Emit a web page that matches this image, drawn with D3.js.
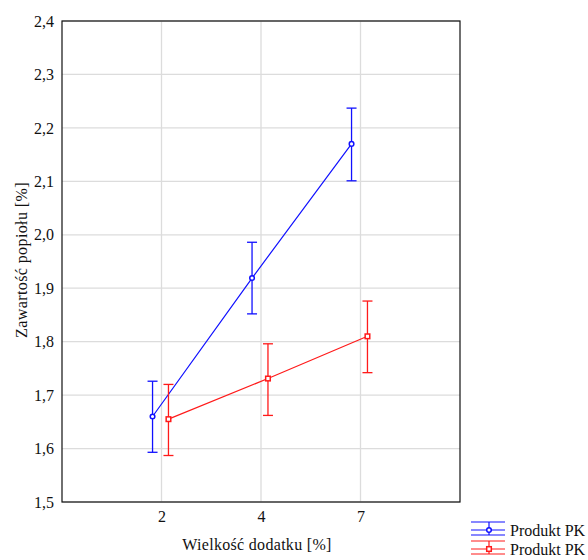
<!DOCTYPE html>
<html>
<head>
<meta charset="utf-8">
<script src="https://cdn.jsdelivr.net/npm/d3@7"></script>
<style>
  body { margin: 0; background: #fff; }
</style>
</head>
<body>
<div id="chart"></div>
<script>
// categorie e valori
const categories = ['2', '4', '7'];
const yTicks = [1.5, 1.6, 1.7, 1.8, 1.9, 2.0, 2.1, 2.2, 2.3, 2.4];

const seriesNames = ['Produkt PK', 'Produkt PK'];
const blueMean = [1.660, 1.919, 2.170];
const blueLow = [1.593, 1.852, 2.101];
const blueHigh = [1.726, 1.986, 2.237];
const redMean = [1.655, 1.731, 1.810];
const redLow = [1.587, 1.662, 1.742];
const redHigh = [1.720, 1.796, 1.876];

const FONT = 'Liberation Serif, Tinos, Times New Roman, Times, serif';
const width = 588, height = 560;
const margin = { top: 21, right: 128, bottom: 58, left: 62 };
const innerWidth = width - margin.left - margin.right;
const innerHeight = height - margin.top - margin.bottom;

const svg = d3.select('#chart').append('svg')
    .attr('width', width).attr('height', height)
    .attr('font-family', FONT);
const g = svg.append('g').attr('transform', `translate(${margin.left},${margin.top})`);

const x = d3.scaleLinear().domain([0, 4]).range([0, innerWidth]);
const y = d3.scaleLinear().domain([1.5, 2.4]).range([innerHeight, 0]);

// griglia
g.append('g').selectAll('line').data(yTicks).join('line')
    .attr('x1', 0).attr('x2', innerWidth)
    .attr('y1', d => y(d)).attr('y2', d => y(d))
    .attr('stroke', '#dcdcdc').attr('stroke-width', 1.3);
g.append('g').selectAll('line').data(categories).join('line')
    .attr('x1', (d, i) => x(i + 1)).attr('x2', (d, i) => x(i + 1))
    .attr('y1', 0).attr('y2', innerHeight)
    .attr('stroke', '#dcdcdc').attr('stroke-width', 1.3);

// assi
const yAxis = d3.axisLeft(y).tickValues(yTicks).tickSize(0).tickPadding(8)
    .tickFormat(d => d3.format('.1f')(d).replace('.', ','));
g.append('g').call(yAxis).attr('font-family', FONT).attr('font-size', 16)
    .call(s => s.select('.domain').remove())
    .selectAll('text').attr('fill', '#111');
const xAxis = d3.axisBottom(x).tickValues([1, 2, 3]).tickSize(0).tickPadding(9)
    .tickFormat(d => categories[d - 1]);
g.append('g').attr('transform', `translate(0,${innerHeight})`).call(xAxis)
    .attr('font-family', FONT).attr('font-size', 16)
    .call(s => s.select('.domain').remove())
    .selectAll('text').attr('fill', '#111');

g.append('rect').attr('x', 0).attr('y', 0).attr('width', innerWidth).attr('height', innerHeight)
    .attr('fill', 'none').attr('stroke', '#111').attr('stroke-width', 1.2);

g.append('text').attr('x', innerWidth / 2 - 4).attr('y', innerHeight + 48)
    .attr('text-anchor', 'middle').attr('fill', '#111')
    .attr('font-size', 16).attr('letter-spacing', 0.3).text('Wielkość dodatku [%]');
g.append('text').attr('transform', 'rotate(-90)')
    .attr('x', -239).attr('y', -35)
    .attr('text-anchor', 'middle').attr('fill', '#111')
    .attr('font-size', 16).attr('letter-spacing', 0.4).text('Zawartość popiołu [%]');

// serie
const series = [
  { mean: blueMean, low: blueLow, high: blueHigh, color: '#1010ff', dx: -0.09, marker: 'circle' },
  { mean: redMean, low: redLow, high: redHigh, color: '#ff1a1a', dx: 0.07, marker: 'square' }
];

series.forEach(s => {
  const pts = s.mean.map((m, i) => ({ x: x(i + 1 + s.dx), m, lo: s.low[i], hi: s.high[i] }));
  g.append('path').datum(pts)
      .attr('d', d3.line().x(d => d.x).y(d => y(d.m)))
      .attr('fill', 'none').attr('stroke', s.color).attr('stroke-width', 1.2);
  const eb = g.append('g').selectAll('g').data(pts).join('g');
  eb.append('line').attr('x1', d => d.x).attr('x2', d => d.x)
      .attr('y1', d => y(d.lo)).attr('y2', d => y(d.hi))
      .attr('stroke', s.color).attr('stroke-width', 1.3);
  [d => y(d.lo), d => y(d.hi)].forEach(fy => {
    eb.append('line').attr('x1', d => d.x - 5).attr('x2', d => d.x + 5)
        .attr('y1', fy).attr('y2', fy)
        .attr('stroke', s.color).attr('stroke-width', 1.3);
  });
  if (s.marker === 'circle') {
    eb.append('circle').attr('cx', d => d.x).attr('cy', d => y(d.m)).attr('r', 2.3)
        .attr('fill', '#fff').attr('stroke', s.color).attr('stroke-width', 1.5);
  } else {
    eb.append('rect').attr('x', d => d.x - 2.3).attr('y', d => y(d.m) - 2.3)
        .attr('width', 4.6).attr('height', 4.6)
        .attr('fill', '#fff').attr('stroke', s.color).attr('stroke-width', 1.5);
  }
});

// legenda
const legend = svg.append('g').attr('transform', 'translate(471,0)');
series.forEach((s, i) => {
  const cy = 530 + i * 19;
  const lg = legend.append('g');
  [cy - 8, cy, cy + 5].forEach(ly => {
    lg.append('line').attr('x1', 0).attr('x2', 34).attr('y1', ly).attr('y2', ly)
        .attr('stroke', s.color).attr('stroke-width', 1.2);
  });
  lg.append('line').attr('x1', 18).attr('x2', 18).attr('y1', cy - 8).attr('y2', cy + 5)
      .attr('stroke', s.color).attr('stroke-width', 1.2);
  if (s.marker === 'circle') {
    lg.append('circle').attr('cx', 18).attr('cy', cy).attr('r', 2.3)
        .attr('fill', '#fff').attr('stroke', s.color).attr('stroke-width', 1.5);
  } else {
    lg.append('rect').attr('x', 15.7).attr('y', cy - 2.3).attr('width', 4.6).attr('height', 4.6)
        .attr('fill', '#fff').attr('stroke', s.color).attr('stroke-width', 1.5);
  }
  lg.append('text').attr('x', 39).attr('y', cy + 6).attr('fill', '#111')
      .attr('font-size', 16).text(seriesNames[i]);
});
</script>
</body>
</html>
